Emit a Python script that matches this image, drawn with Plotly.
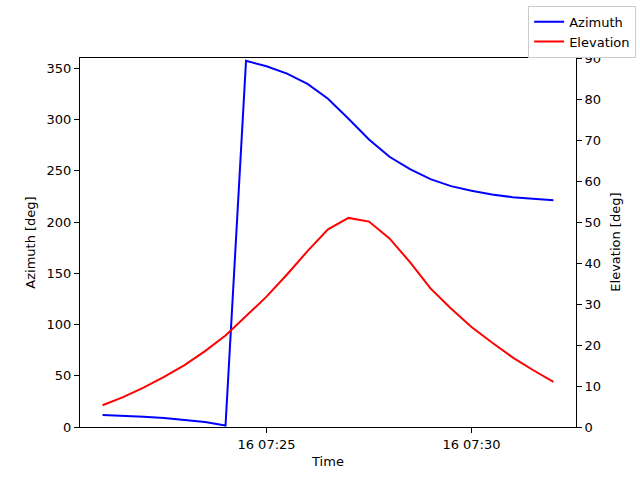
import plotly.graph_objects as go
import pandas as pd

times = pd.date_range("2024-06-16 07:21:00", "2024-06-16 07:32:00", freq="30s")
azimuth = [11.7, 11.1, 10.1, 8.8, 7.2, 4.9, 1.5, 357.2, 352.0, 344.8, 334.8, 320.2,
           300.7, 280.5, 263.6, 251.5, 241.8, 235.0, 230.4, 226.8, 224.2, 222.6, 221.3]
elevation = [5.3, 7.3, 9.6, 12.2, 15.1, 18.5, 22.3, 27.1, 31.8, 37.2, 42.9, 48.2,
             51.0, 50.1, 46.0, 40.2, 33.8, 28.9, 24.4, 20.6, 17.0, 13.9, 11.0]
tick_times = ["2024-06-16 07:25:00", "2024-06-16 07:30:00"]
x_range = ["2024-06-16 07:20:27", "2024-06-16 07:32:33"]

font = dict(family="DejaVu Sans", size=13, color="black")

fig = go.Figure()
fig.add_trace(go.Scatter(x=times, y=azimuth, mode="lines", name="Azimuth",
                         line=dict(color="#0000ff", width=2)))
fig.add_trace(go.Scatter(x=times, y=elevation, mode="lines", name="Elevation",
                         line=dict(color="#ff0000", width=2), yaxis="y2"))

fig.update_layout(
    width=640, height=480,
    margin=dict(l=80, r=64, t=58, b=53, autoexpand=False),
    paper_bgcolor="white", plot_bgcolor="white",
    font=font,
    showlegend=True,
    legend=dict(xref="container", yref="container", x=0.994, y=0.988,
                xanchor="right", yanchor="top",
                bordercolor="#cccccc", borderwidth=1, bgcolor="white",
                font=dict(family="DejaVu Sans", size=13),
                tracegroupgap=0, itemwidth=30, entrywidth=80),
    xaxis=dict(type="date", range=x_range, tickvals=tick_times, tickformat="%d %H:%M",
               showgrid=False, zeroline=False, showline=True, linecolor="black",
               linewidth=1, mirror=True, ticks="outside", ticklen=5, tickcolor="black",
               title=dict(text="Time", standoff=6, font=font)),
    yaxis=dict(range=[0, 360], tickvals=[0, 50, 100, 150, 200, 250, 300, 350],
               showgrid=False, zeroline=False, showline=True, linecolor="black",
               linewidth=1, ticks="outside", ticklen=5, tickcolor="black",
               title=dict(text="Azimuth [deg]", standoff=8, font=font)),
    yaxis2=dict(range=[0, 90], tickvals=list(range(0, 91, 10)), overlaying="y",
                side="right", showgrid=False, zeroline=False, showline=True,
                linecolor="black", linewidth=1, ticks="outside", ticklen=5,
                tickcolor="black"),
    annotations=[dict(text="Elevation [deg]", xref="paper", yref="paper",
                      x=1.079, y=0.5, xanchor="center", yanchor="middle",
                      textangle=-90, showarrow=False, font=font)],
)

fig.write_html("out.html", config={"displayModeBar": False},
               post_script="document.body.style.margin='0';")
